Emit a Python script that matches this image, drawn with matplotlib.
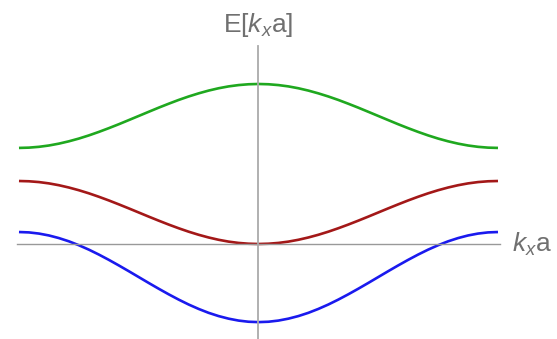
import numpy as np
import matplotlib
matplotlib.use("Agg")
import matplotlib.pyplot as plt

plt.rcParams['font.family'] = ['Liberation Sans', 'DejaVu Sans']
plt.rcParams['mathtext.fontset'] = 'custom'
plt.rcParams['mathtext.rm'] = 'Liberation Sans'
plt.rcParams['mathtext.it'] = 'Liberation Sans:italic'

# k_x a from -pi to pi in steps of pi/24
kx = np.linspace(-np.pi, np.pi, 49)

# band energies (arbitrary units) from k_x a = -pi up to 0; the bands are even in k
upper_half = [3.050, 3.059, 3.085, 3.127, 3.186, 3.260, 3.347, 3.447, 3.558, 3.677, 3.802, 3.933, 4.065,
              4.197, 4.328, 4.453, 4.573, 4.683, 4.782, 4.870, 4.944, 5.003, 5.045, 5.071, 5.080]
middle_half = [2.000, 1.991, 1.966, 1.924, 1.866, 1.793, 1.707, 1.609, 1.500, 1.383, 1.259, 1.131, 1.000,
               0.869, 0.741, 0.617, 0.500, 0.391, 0.293, 0.207, 0.134, 0.076, 0.034, 0.009, 0.000]
lower_half = [0.380, 0.368, 0.331, 0.271, 0.188, 0.085, -0.039, -0.179, -0.335, -0.503, -0.680, -0.863, -1.050,
              -1.237, -1.420, -1.597, -1.765, -1.921, -2.061, -2.185, -2.288, -2.370, -2.431, -2.468, -2.480]

upper_band = upper_half + upper_half[-2::-1]
middle_band = middle_half + middle_half[-2::-1]
lower_band = lower_half + lower_half[-2::-1]

fig = plt.figure(figsize=(5.57, 3.39), dpi=100)
ax = fig.add_axes([0, 0, 1, 1])

ax.plot(kx, upper_band, color='#1fa81f', lw=1.9, solid_capstyle='butt')
ax.plot(kx, middle_band, color='#a31818', lw=1.9, solid_capstyle='butt')
ax.plot(kx, lower_band, color='#1a1aee', lw=1.9, solid_capstyle='butt')

# axes through the origin
ax.plot([-np.pi - 0.02, np.pi + 0.03], [0, 0], color='#999999', lw=1.0, zorder=3)
ax.plot([0, 0], [-3.1, 6.3], color='#aaaaaa', lw=1.3, zorder=3)

ax.text(0.0, 6.5, r'E[$k_x$a]', ha='center', va='bottom', fontsize=19, color='#707070')
ax.text(np.pi + 0.18, 0.0, r'$k_x$a', ha='left', va='center', fontsize=19, color='#707070')

ax.set_xlim(-np.pi - 0.249, np.pi + 0.774)
ax.set_ylim(-3.016, 7.746)
ax.axis('off')

fig.savefig('out.png', dpi=100)
